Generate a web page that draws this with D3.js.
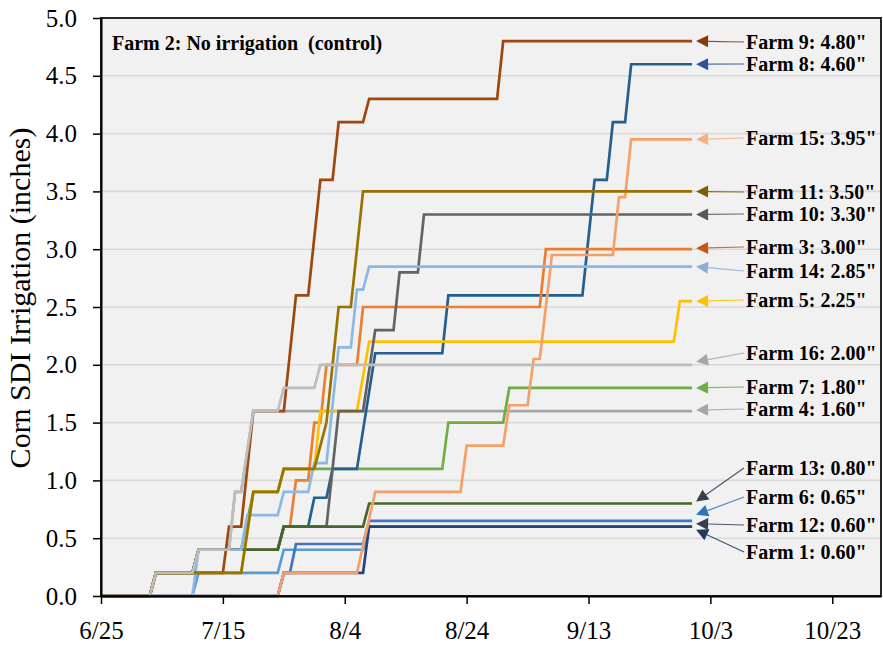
<!DOCTYPE html>
<html><head><meta charset="utf-8">
<script src="https://cdn.jsdelivr.net/npm/d3@7"></script>
<style>
body{margin:0;background:#fff;}
svg{display:block;}
text{font-family:"Liberation Serif","Times New Roman",serif;}
</style>
</head><body>
<svg id="chart" width="883" height="647"></svg>
<script>
// ---------------- DATA ----------------
const YEAR = 2021;
const xTickLabels = ["6/25","7/15","8/4","8/24","9/13","10/3","10/23"];
const xDomainDates = ["6/25","10/31"];
const yTickValues = [0,0.5,1,1.5,2,2.5,3,3.5,4,4.5,5];
const chartTitle = "Farm 2: No irrigation  (control)";
const yAxisTitle = "Corn SDI Irrigation (inches)";

const farm4  = [["6/25",0],["7/3",0],["7/4",0.2],["7/10",0.2],["7/11",0.4],["7/16",0.4],["7/17",0.9],["7/18",0.9],["7/20",1.6],["9/30",1.6]];
const farm7  = [["6/25",0],["7/3",0],["7/4",0.2],["7/10",0.2],["7/11",0.4],["7/18",0.4],["7/20",0.9],["7/24",0.9],["7/25",1.1],["8/20",1.1],["8/21",1.5],["8/30",1.5],["8/31",1.8],["9/30",1.8]];
const farm8  = [["6/25",0],["7/3",0],["7/4",0.2],["7/10",0.2],["7/11",0.4],["7/24",0.4],["7/25",0.6],["7/29",0.6],["7/30",0.85],["8/1",0.85],["8/2",1.1],["8/6",1.1],["8/9",2.1],["8/20",2.1],["8/21",2.6],["9/12",2.6],["9/14",3.6],["9/16",3.6],["9/17",4.1],["9/19",4.1],["9/20",4.6],["9/30",4.6]];
const farm3  = [["6/25",0],["7/3",0],["7/4",0.2],["7/10",0.2],["7/11",0.4],["7/24",0.4],["7/25",0.6],["7/26",0.6],["7/27",1.0],["7/29",1.0],["7/30",1.5],["7/31",1.5],["8/1",2.0],["8/6",2.0],["8/7",2.5],["9/5",2.5],["9/6",3.0],["9/30",3.0]];
const farm5  = [["6/25",0],["7/3",0],["7/4",0.2],["7/18",0.2],["7/20",0.9],["7/24",0.9],["7/25",1.1],["7/30",1.1],["7/31",1.6],["8/6",1.6],["8/8",2.2],["9/27",2.2],["9/28",2.55],["9/30",2.55]];
const farm10 = [["6/25",0],["7/3",0],["7/4",0.2],["7/10",0.2],["7/11",0.4],["7/24",0.4],["7/25",0.6],["8/1",0.6],["8/3",1.6],["8/7",1.6],["8/9",2.3],["8/12",2.3],["8/13",2.8],["8/16",2.8],["8/17",3.3],["9/30",3.3]];
const farm13 = [["6/25",0],["7/3",0],["7/4",0.2],["7/10",0.2],["7/11",0.4],["7/24",0.4],["7/25",0.6],["8/7",0.6],["8/8",0.8],["9/30",0.8]];
const farm12 = [["6/25",0],["7/10",0],["7/11",0.2],["7/24",0.2],["7/25",0.4],["8/7",0.4],["8/8",0.6],["9/30",0.6]];
const farm1  = [["6/25",0],["7/24",0],["7/25",0.2],["8/7",0.2],["8/8",0.6],["9/30",0.6]];
const farm6  = [["6/25",0],["7/24",0],["7/25",0.2],["7/26",0.2],["7/27",0.45],["8/7",0.45],["8/8",0.65],["9/30",0.65]];
const farm15 = [["6/25",0],["7/24",0],["7/25",0.2],["8/6",0.2],["8/9",0.9],["8/23",0.9],["8/24",1.3],["8/30",1.3],["8/31",1.65],["9/3",1.65],["9/4",2.05],["9/5",2.05],["9/7",2.95],["9/17",2.95],["9/18",3.45],["9/19",3.45],["9/20",3.95],["9/30",3.95]];
const farm14 = [["6/25",0],["7/10",0],["7/11",0.4],["7/18",0.4],["7/19",0.7],["7/24",0.7],["7/25",0.9],["7/29",0.9],["7/30",1.15],["8/1",1.15],["8/3",2.15],["8/5",2.15],["8/6",2.65],["8/7",2.65],["8/8",2.85],["9/30",2.85]];
const farm9  = [["6/25",0],["7/3",0],["7/4",0.2],["7/15",0.2],["7/16",0.6],["7/18",0.6],["7/20",1.6],["7/25",1.6],["7/27",2.6],["7/29",2.6],["7/31",3.6],["8/2",3.6],["8/3",4.1],["8/7",4.1],["8/8",4.3],["8/29",4.3],["8/30",4.8],["9/30",4.8]];
const farm11 = [["6/25",0],["7/3",0],["7/4",0.2],["7/18",0.2],["7/20",0.9],["7/24",0.9],["7/25",1.1],["7/30",1.1],["8/1",1.5],["8/3",2.5],["8/5",2.5],["8/7",3.5],["9/30",3.5]];
const farm16 = [["6/25",0],["7/3",0],["7/4",0.2],["7/10",0.2],["7/11",0.4],["7/16",0.4],["7/17",0.9],["7/18",0.9],["7/20",1.6],["7/24",1.6],["7/25",1.8],["7/30",1.8],["7/31",2.0],["9/30",2.0]];

// drawing order (bottom -> top)
const farmIds     = [4, 7, 8, 3, 5, 10, 13, 12, 1, 6, 15, 14, 9, 11, 16];
const farmSeries  = [farm4, farm7, farm8, farm3, farm5, farm10, farm13, farm12, farm1, farm6, farm15, farm14, farm9, farm11, farm16];
const labelTotals = ["1.60","1.80","4.60","3.00","2.25","3.30","0.80","0.60","0.60","0.65","3.95","2.85","4.80","3.50","2.00"];

// ---------------- STYLE / LAYOUT ----------------
const lineColors  = ["#A5A5A5","#70AD47","#255E91","#ED7D31","#FFC000","#636363","#43682B","#5B9BD5","#264478","#4472C4","#F6A068","#8DB8E4","#9E480E","#997300","#BDBDBD"];
const arrowColors = ["#A6A6A6","#70AD47","#2F5597","#C55A11","#FFC000","#595959","#333F50","#333F50","#1F3864","#2E75B6","#F4B183","#8FAADC","#843C0C","#7F6000","#A6A6A6"];
const labelTextY  = [409, 387, 64, 247, 300, 214, 468, 525, 552, 497, 138, 271, 42, 192, 353];
const tipDy       = [-1, 0, 0, -1, 0, 0, -2, -3, 3, -6, 0, 0, 0, 0, -3];

const W = 883, H = 647;
const M = {left:101, right:881, top:18, bottom:596};
const parse = s => d3.timeParse("%m/%d/%Y")(s + "/" + YEAR);

const svg = d3.select("#chart");
const x = d3.scaleTime().domain(xDomainDates.map(parse)).range([M.left, M.right]);
const y = d3.scaleLinear().domain([0,5]).range([M.bottom, M.top]);

// plot background
svg.append("rect").attr("x",M.left).attr("y",M.top).attr("width",M.right-M.left).attr("height",M.bottom-M.top)
  .attr("fill","#F1F1F1");

// gridlines
svg.append("g").selectAll("line").data(yTickValues.filter(v => v>0 && v<5)).join("line")
  .attr("x1",M.left).attr("x2",M.right).attr("y1",d=>y(d)).attr("y2",d=>y(d))
  .attr("stroke","#D9D9D9").attr("stroke-width",1.6);

// series
const line = d3.line().x(d=>x(parse(d[0]))).y(d=>y(d[1]));
svg.append("g").selectAll("path").data(farmSeries).join("path")
  .attr("d", line).attr("fill","none")
  .attr("stroke",(d,i)=>lineColors[i]).attr("stroke-width",2.7)
  .attr("stroke-linejoin","miter").attr("stroke-miterlimit",2);

// border
svg.append("rect").attr("x",M.left).attr("y",M.top).attr("width",M.right-M.left).attr("height",M.bottom-M.top)
  .attr("fill","none").attr("stroke","#262626").attr("stroke-width",2);

// axes
const xAxis = d3.axisBottom(x).tickValues(xTickLabels.map(parse)).tickFormat(d3.timeFormat("%-m/%-d"))
  .tickSize(8).tickSizeOuter(0).tickPadding(17);
const gx = svg.append("g").attr("transform",`translate(0,${M.bottom})`).call(xAxis);
gx.select(".domain").attr("stroke","#000").attr("stroke-width",2);
gx.selectAll(".tick line").attr("stroke","#000").attr("stroke-width",1.5);
gx.selectAll("text").attr("font-size",25).attr("fill","#000").attr("font-family","Liberation Serif");

const yAxis = d3.axisLeft(y).tickValues(yTickValues).tickFormat(d3.format(".1f"))
  .tickSize(8).tickSizeOuter(0).tickPadding(16);
const gy = svg.append("g").attr("transform",`translate(${M.left},0)`).call(yAxis);
gy.select(".domain").attr("stroke","#000").attr("stroke-width",2);
gy.selectAll(".tick line").attr("stroke","#000").attr("stroke-width",1.5);
gy.selectAll("text").attr("font-size",25).attr("fill","#000").attr("font-family","Liberation Serif");

// y title
svg.append("text").attr("transform",`translate(30,298) rotate(-90)`)
  .attr("text-anchor","middle").attr("font-size",30).attr("fill","#000").text(yAxisTitle);

// chart title
svg.append("text").attr("x",112).attr("y",50).attr("font-size",20).attr("font-weight","bold")
  .attr("fill","#000").style("white-space","pre").text(chartTitle);

// labels with arrows
const textX = 746;
const gl = svg.append("g");
farmSeries.forEach((s,i)=>{
  const last = s[s.length-1];
  const tx = x(parse(last[0])) + 4;
  const ty = y(last[1]) + tipDy[i];
  const ly = labelTextY[i];
  const ex = textX - 2, ey = ly;
  const dx = ex - tx, dy = ey - ty, len = Math.hypot(dx,dy);
  const ux = dx/len, uy = dy/len, px = -uy, py = ux;
  const L = 12, hw = 6;
  const bx = tx + ux*L, by = ty + uy*L;
  gl.append("line").attr("x1",bx).attr("y1",by).attr("x2",ex).attr("y2",ey)
    .attr("stroke",arrowColors[i]).attr("stroke-width",1.2).attr("opacity",0.85);
  gl.append("path").attr("d",`M${tx},${ty}L${bx+px*hw},${by+py*hw}L${bx-px*hw},${by-py*hw}Z`)
    .attr("fill",arrowColors[i]);
  gl.append("text").attr("x",textX).attr("y",ly).attr("dy","0.35em")
    .attr("font-size",20).attr("font-weight","bold").attr("fill","#000")
    .text(`Farm ${farmIds[i]}: ${labelTotals[i]}"`);
});
</script>
</body></html>
